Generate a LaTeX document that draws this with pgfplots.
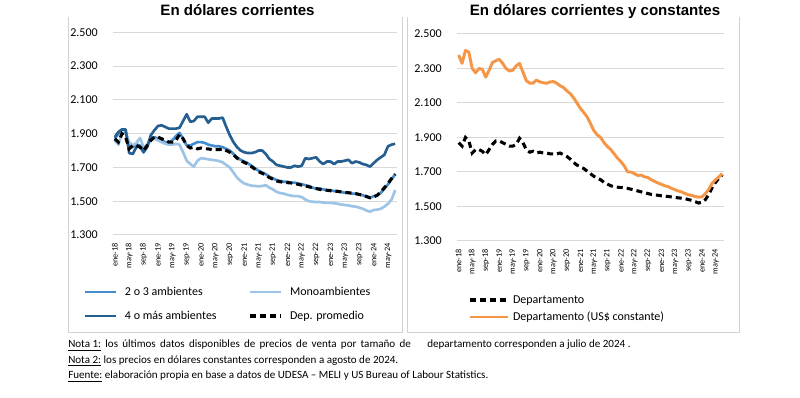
\documentclass[border=0pt]{standalone}
\usepackage{pgfplots}
\pgfplotsset{compat=1.18}
\usepackage{pgfplotstable}
\usepackage{fontspec}
\setmainfont{Carlito}
\newfontfamily\titlefont{Liberation Sans}

\definecolor{cDos}{RGB}{68,140,205}
\definecolor{cMono}{RGB}{157,195,230}
\definecolor{cCuatro}{RGB}{37,94,145}
\definecolor{cOrange}{RGB}{245,150,70}
\definecolor{cGrid}{RGB}{217,217,217}
\definecolor{cBox}{RGB}{210,210,210}

\pgfplotstableread{
i dos mono cuatro dep depR konst
0 1870 1860 1880 1870 1870 2378
1 1900 1835 1910 1850 1850 2330
2 1925 1900 1925 1900 1900 2405
3 1920 1905 1925 1880 1880 2395
4 1830 1850 1785 1810 1810 2300
5 1820 1830 1780 1830 1830 2275
6 1840 1845 1820 1830 1830 2300
7 1825 1875 1830 1820 1820 2295
8 1790 1820 1790 1800 1800 2250
9 1830 1830 1820 1830 1830 2290
10 1870 1860 1890 1860 1860 2335
11 1880 1870 1920 1880 1880 2345
12 1870 1860 1945 1880 1880 2353
13 1860 1850 1950 1870 1870 2330
14 1850 1840 1940 1860 1860 2300
15 1850 1835 1930 1850 1850 2285
16 1860 1835 1930 1850 1850 2290
17 1885 1840 1930 1860 1860 2315
18 1905 1835 1935 1895 1895 2330
19 1870 1790 1975 1870 1870 2280
20 1830 1740 2015 1830 1830 2230
21 1830 1720 1970 1815 1815 2215
22 1840 1705 1975 1820 1820 2215
23 1850 1740 2000 1810 1810 2233
24 1850 1755 2000 1815 1815 2222
25 1845 1752 2000 1810 1810 2218
26 1835 1748 1965 1810 1810 2214
27 1830 1745 1990 1805 1805 2222
28 1825 1742 1990 1805 1805 2224
29 1825 1738 1990 1805 1805 2215
30 1820 1730 1995 1810 1810 2200
31 1810 1715 1940 1800 1800 2190
32 1800 1700 1890 1790 1790 2170
33 1780 1670 1850 1775 1775 2155
34 1760 1640 1820 1755 1755 2130
35 1745 1620 1800 1740 1740 2100
36 1735 1605 1790 1730 1730 2069
37 1725 1598 1785 1720 1720 2045
38 1710 1592 1785 1705 1705 2020
39 1695 1590 1790 1690 1690 1980
40 1680 1588 1800 1675 1675 1940
41 1670 1590 1800 1665 1665 1915
42 1660 1595 1780 1655 1655 1900
43 1645 1580 1750 1640 1640 1870
44 1635 1570 1735 1630 1630 1848
45 1625 1555 1715 1620 1620 1830
46 1620 1548 1710 1615 1615 1805
47 1615 1545 1705 1612 1612 1780
48 1615 1538 1700 1610 1610 1760
49 1610 1533 1700 1608 1608 1735
50 1610 1530 1710 1605 1605 1700
51 1605 1530 1705 1600 1600 1700
52 1600 1525 1710 1595 1595 1690
53 1595 1510 1755 1590 1590 1680
54 1590 1500 1750 1585 1585 1682
55 1580 1497 1755 1580 1580 1672
56 1575 1495 1760 1575 1575 1668
57 1575 1495 1735 1570 1570 1655
58 1570 1492 1720 1567 1567 1645
59 1565 1490 1735 1565 1565 1636
60 1565 1490 1735 1562 1562 1628
61 1560 1488 1720 1560 1560 1620
62 1560 1485 1735 1558 1558 1615
63 1555 1480 1735 1555 1555 1605
64 1550 1478 1740 1552 1552 1597
65 1550 1475 1745 1550 1550 1590
66 1545 1470 1725 1548 1548 1584
67 1545 1468 1735 1545 1545 1575
68 1540 1462 1730 1540 1540 1568
69 1535 1455 1720 1535 1535 1564
70 1528 1445 1715 1528 1528 1558
71 1520 1438 1705 1520 1520 1554
72 1530 1448 1725 1525 1525 1556
73 1535 1450 1745 1535 1540 1575
74 1550 1455 1760 1555 1570 1600
75 1575 1468 1775 1580 1610 1635
76 1600 1485 1825 1605 1640 1655
77 1630 1510 1835 1635 1665 1672
78 1660 1566 1840 1660 1685 1690
}\datos

\pgfplotsset{
  panel/.style={
    scale only axis,
    xmin=-0.5, xmax=78.5, ymin=1300, ymax=2500,
    ytick={1300,1500,...,2500},
    xtick={0,4,...,76},
    xticklabels={ene-18,may-18,sep-18,ene-19,may-19,sep-19,ene-20,may-20,sep-20,ene-21,may-21,sep-21,ene-22,may-22,sep-22,ene-23,may-23,sep-23,ene-24,may-24},
    axis line style={draw=none},
    major tick length=0pt,
    ymajorgrids,
    grid style={cGrid, line width=0.75pt},
    /pgf/number format/1000 sep={.},
    /pgf/number format/assume math mode=true,
    yticklabel style={font=\fontsize{9}{10}\selectfont, anchor=east, inner sep=0pt, xshift=-11.25pt},
    xticklabel style={font=\fontsize{6.2}{7}\selectfont, rotate=90, anchor=east, inner sep=0pt},
    xticklabel shift=6pt,
  },
  pline/.style={line width=2pt, line join=round},
  pdash/.style={black, line width=2.3pt, dash pattern=on 4.5pt off 3pt},
}

\newcommand{\pxy}[2]{({#1*0.75pt},{(398-#2)*0.75pt})}

\begin{document}
\begin{tikzpicture}
\path[use as bounding box] (0,0) rectangle (600pt,298.5pt);

% boxes
\draw[cBox, line width=0.75pt] \pxy{68}{17} -- \pxy{68}{333} -- \pxy{402}{333} -- \pxy{402}{17};
\draw[cBox, line width=0.75pt] \pxy{407}{17} -- \pxy{407}{333} -- \pxy{739}{333} -- \pxy{739}{17};

% left panel
\begin{axis}[panel,
  at={(84.75pt,122.25pt)}, anchor=south west,
  width=213pt, height=152pt,
  legend columns=2,
  legend image code/.code={\draw[#1] (0pt,0pt) -- (23.75pt,0pt);},
  legend style={at={(-0.1045,-0.2549)}, anchor=north west, draw=none, fill=none,
    inner sep=0pt, outer sep=0pt, row sep=10pt, column sep=5.5pt,
    font=\fontsize{9}{10}\selectfont,
    nodes={text height=6.5pt, text depth=1.5pt, inner sep=0pt},
    cells={anchor=west},
    /tikz/every even column/.append style={column sep=23.5pt}},
  legend cell align=left,
]
\addplot[pline, cDos] table[x=i, y=dos]{\datos};
\addlegendentry{2 o 3 ambientes}
\addplot[pline, cMono] table[x=i, y=mono]{\datos};
\addlegendentry{Monoambientes}
\addplot[pline, cCuatro] table[x=i, y=cuatro]{\datos};
\addlegendentry{4 o más ambientes}
\addplot[pdash] table[x=i, y=dep]{\datos};
\addlegendentry{Dep. promedio}
\end{axis}

% right panel
\begin{axis}[panel,
  at={(342.75pt,117.75pt)}, anchor=south west,
  width=200.25pt, height=155.25pt,
  legend image code/.code={\draw[#1] (0pt,0pt) -- (28.5pt,0pt);},
  legend style={at={(0.0412,-0.2593)}, anchor=north west, draw=none, fill=none,
    inner sep=0pt, outer sep=0pt, row sep=4.75pt, column sep=3pt,
    font=\fontsize{9}{10}\selectfont,
    nodes={text height=6.5pt, text depth=1.5pt, inner sep=0pt},
    cells={anchor=west}},
  legend cell align=left,
]
\addplot[pdash] table[x=i, y=depR]{\datos};
\addlegendentry{Departamento}
\addplot[line width=2.2pt, line join=round, cOrange] table[x=i, y=konst]{\datos};
\addlegendentry{Departamento (US\$ constante)}
\end{axis}

% titles
\node[anchor=base, font=\titlefont\bfseries\fontsize{11.3}{13}\selectfont] at \pxy{237.5}{15.5} {En dólares corrientes};
\node[anchor=base, font=\titlefont\bfseries\fontsize{11.3}{13}\selectfont] at \pxy{595}{15.5} {En dólares corrientes y constantes};

% notes
\begin{scope}[every node/.style={inner sep=0pt, font=\fontsize{8.3}{9.5}\selectfont}]
\node[anchor=base west] at \pxy{68}{348} {\makebox[257pt][s]{\underline{Nota 1:} los últimos datos disponibles de precios de venta por tamaño de}};
\node[anchor=base west] at \pxy{427}{348} {departamento corresponden a julio de 2024 .};
\node[anchor=base west] at \pxy{68}{363.5} {\underline{Nota 2:} los precios en dólares constantes corresponden a agosto de 2024.};
\node[anchor=base west] at \pxy{68}{379} {\underline{Fuente:} elaboración propia en base a datos de UDESA – MELI y US Bureau of Labour Statistics.};
\end{scope}
\end{tikzpicture}
\end{document}
